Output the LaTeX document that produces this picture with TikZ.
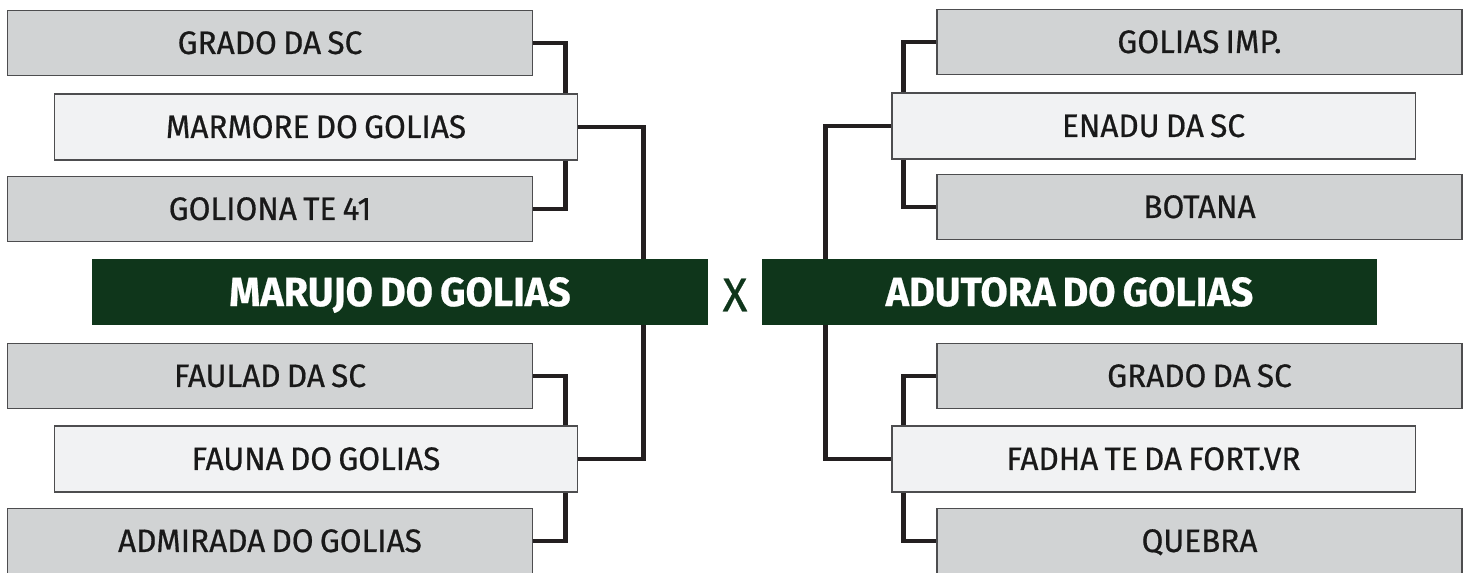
\documentclass[tikz,border=0pt]{standalone}
\usepackage{fontspec}
\setmainfont{Fira Sans}[FakeStretch=0.97, WordSpace=0.75, FakeBold=0.6]
\usepackage{tikz}
\usetikzlibrary{positioning,calc,backgrounds}
\definecolor{clubgreen}{RGB}{15,54,27}
\definecolor{boxgrey}{RGB}{209,211,212}
\definecolor{boxlight}{RGB}{241,242,243}
\definecolor{boxedge}{RGB}{77,77,79}
\definecolor{linkdark}{RGB}{35,31,32}
\tikzset{teambox/.style={rectangle, draw=boxedge, line width=0.8pt, fill=boxgrey, minimum width=10.5cm, minimum height=1.3cm, inner sep=0pt, text height=12.5pt, text depth=0pt, font=\fontsize{18.5}{20}\selectfont, text=black!90}, seedbox/.style={teambox, fill=boxlight, minimum width=10.47cm, minimum height=1.32cm}, finalbox/.style={rectangle, fill=clubgreen, minimum width=12.31cm, minimum height=1.32cm, inner sep=0pt, text height=16pt, text depth=0pt, font=\fontsize{23.2}{26}\selectfont\bfseries, text=white}, link/.style={draw=linkdark, line width=2.8pt, line join=miter}}
\begin{document}
\begin{tikzpicture}[x=0.02cm,y=-0.02cm]
\useasboundingbox (0,0) rectangle (1469,572);
% left half
\foreach \n/\y/\t in {ltop/43/{GRADO DA SC},lmid/209/{GOLIONA TE 41},lbot/376/{FAULAD DA SC},llow/541/{ADMIRADA DO GOLIAS}} {\node[teambox] (\n) at (270,\y) {\t};}
\node[seedbox] (lsemia) at (316,127) {MARMORE DO GOLIAS};
\node[seedbox] (lsemib) at (316,459) {FAUNA DO GOLIAS};
\node[finalbox] (lfinal) at (400,292) {MARUJO DO GOLIAS};
% right half
\foreach \n/\y/\t in {rtop/42/{GOLIAS IMP.},rmid/207/{BOTANA},rbot/376/{GRADO DA SC},rlow/541/{QUEBRA}} {\node[teambox] (\n) at (1199.5,\y) {\t};}
\node[seedbox] (rsemia) at (1153.5,126) {ENADU DA SC};
\node[seedbox] (rsemib) at (1153.5,459) {FADHA TE DA FORT.VR};
\node[finalbox, minimum width=12.32cm] (rfinal) at (1069.5,292) {ADUTORA DO GOLIAS};
\node[text=clubgreen, inner sep=0pt, font=\fontsize{27}{30}\selectfont] (versus) at (735,295) {X};
% brackets behind the boxes
\begin{scope}[on background layer]
\draw[link] (ltop.east) -- ++(32,0) |- (lmid.east);
\draw[link] (lbot.east) -- ++(32,0) |- (llow.east);
\draw[link] (lsemia.east) -- ++(65,0) |- (lsemib.east);
\draw[link] (rtop.west) -- ++(-33,0) |- (rmid.west);
\draw[link] (rbot.west) -- ++(-33,0) |- (rlow.west);
\draw[link] (rsemia.west) -- ++(-66,0) |- (rsemib.west);
\end{scope}
\end{tikzpicture}
\end{document}
